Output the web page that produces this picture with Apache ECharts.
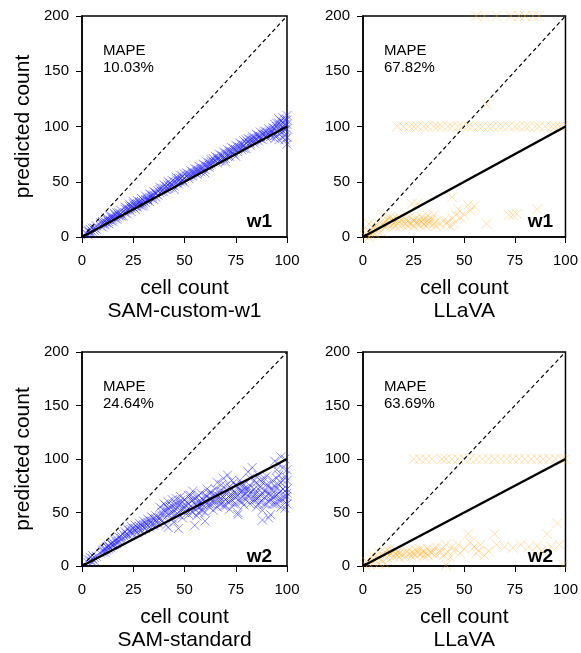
<!DOCTYPE html>
<html>
<head>
<meta charset="utf-8">
<script src="https://cdn.jsdelivr.net/npm/echarts@6/dist/echarts.min.js"></script>
<style>html,body{margin:0;padding:0;background:#fff}#c{width:581px;height:653px}</style>
</head>
<body>
<div id="c"></div>
<script>
// ---- data ----
const xTicks = [0, 25, 50, 75, 100];
const yTicks = [0, 50, 100, 150, 200];
const refX = [0, 100];
const identityY = [0, 100];
const doubleY = [0, 200];

const panelTitles = ['SAM-custom-w1', 'LLaVA', 'SAM-standard', 'LLaVA'];
const mapeValues = ['10.03%', '67.82%', '24.64%', '63.69%'];
const wellLabels = ['w1', 'w1', 'w2', 'w2'];

const samCustomW1 = [
[2,3],[3,2],[3,5],[4,4],[4,7],[5,5],[5,3],[6,6],[6,8],[7,7],
[9,10],[10,12],[10,9],[11,11],[11,14],[12,13],[12,16],[13,14],[13,12],[14,15],[14,18],[15,16],[15,14],[16,17],[16,20],[17,18],[17,16],[18,20],[18,22],[19,19],[19,21],
[21,22],[21,25],[22,24],[22,21],[23,25],[23,28],[24,26],[24,23],[25,27],[25,30],[26,28],[26,25],[27,30],[27,27],[28,31],[28,29],[29,32],[29,28],[30,33],[30,30],[31,34],[31,31],[32,35],[32,33],[33,36],[33,32],[34,37],[34,35],[35,38],[35,34],[36,39],[36,36],[37,38],
[38,40],[38,43],[39,41],[40,44],[40,41],[41,46],[42,44],[42,47],[43,45],[43,49],[44,47],[45,50],[45,46],[46,49],[46,52],[47,51],[47,48],[48,53],[48,50],[49,52],[49,55],[50,53],[50,49],
[51,55],[52,57],[52,53],[53,56],[54,59],[54,55],[55,58],[56,61],[56,57],[57,60],[58,63],[58,59],[59,62],[60,65],[60,61],[61,64],[62,67],[62,63],[63,66],[64,68],
[65,69],[66,72],[66,67],[67,71],[68,74],[68,69],[69,73],[70,76],[70,71],[71,75],[72,78],[72,73],[73,77],[74,80],[74,75],[75,79],[76,82],[76,77],[77,81],[78,84],[78,79],[79,83],[80,85],[80,80],
[81,86],[82,88],[82,83],[83,87],[84,90],[84,85],[85,89],[86,92],[86,87],[87,91],[88,93],[88,88],[89,92],[90,95],[90,90],[91,94],[92,96],[92,91],[93,95],
[94,98],[94,92],[95,100],[95,95],[96,103],[96,97],[97,101],[97,94],[98,104],[98,96],[99,102],[99,88],[100,106],[100,98],[100,84],[99,92],
[3,6],[5,8],[7,10],[9,13],[10,14],[12,17],[14,19],[16,21],[17,22],[19,24],[21,27],[23,30],[25,32],[27,33],[29,35],[31,37],[33,39],[35,41],[37,42],[38,45],[40,47],[42,50],[44,51],[46,54],[48,56],[50,57],[51,58],[53,60],[55,62],[57,64],[59,66],[61,68],[63,70],[64,71],[65,73],[67,75],[69,77],[71,79],[73,81],[75,83],[77,85],[79,87],[80,88],[81,89],[83,91],[85,93],[87,95],[89,96],[91,98],[93,99],[94,102],[96,107],[98,108],[100,110],[100,102],[99,97],[97,105],[95,92],[98,90],[100,90],[96,88],[94,89],[70,68],[75,73],[60,58],[45,43],[30,28],[20,19],
[11,12],[13,16],[15,18],[18,19],[22,26],[24,28],[26,30],[28,32],[32,34],[34,38],[36,40],[39,44],[41,43],[43,47],[47,53],[49,51],[52,55],[54,57],[56,59],[58,61],[62,65],[63,68],[66,70],[67,69],[69,71],[71,73],[72,76],[74,77],[76,79],[78,81],[79,80],[82,85],[83,89],[84,87],[86,90],[87,89],[89,94],[90,92],[92,94],[93,97],[95,103],[97,98],[99,106],[98,100]
];

const llavaW1 = [
[17,100],[20,100],[23,100],[25,100],[27,100],[30,100],[32,100],[35,100],[37,100],[39,100],[42,100],[44,100],[47,100],[49,100],[52,100],[54,100],[57,100],[59,100],[62,100],[64,100],[67,100],[69,100],[72,100],[75,100],[77,100],[80,100],[82,100],[85,100],[87,100],[90,100],[93,100],[95,100],[97,100],[99,100],
[56,200],[60,200],[66,200],[73,200],[77,200],[80,200],[84,200],[87,200],
[61,120],
[1,1],[2,3],[3,0],[3,5],[4,2],[5,8],[5,4],[6,3],[6,10],[7,6],[8,12],[8,9],[9,5],[10,12],[10,20],[11,14],[11,9],[12,15],[12,11],[13,13],[13,18],[14,10],[14,15],[15,12],[15,16],[16,14],[16,10],[17,16],[17,12],[18,14],[18,18],[19,11],[19,15],
[21,12],[21,16],[22,10],[22,14],[23,13],[23,18],[24,12],[24,30],[25,15],[25,10],[26,13],[26,17],[27,12],[27,30],[28,15],[28,11],[29,14],[29,18],[30,12],[30,16],[31,13],[31,10],[32,15],[32,19],[33,12],[33,14],[34,16],[35,12],[35,20],[36,14],[36,10],
[38,12],[40,15],[41,12],[42,14],[43,10],[44,17],[44,36],[45,12],[46,20],[47,25],[48,18],[50,20],[52,29],[53,24],[55,28],[61,12],[72,20],[74,20],[76,21],[86,25],[3,12]
];

const samStandard = [
[3,3],[4,5],[4,8],[5,7],[5,10],[6,8],[6,5],[7,9],[3,6],[5,4],
[9,12],[10,15],[10,13],[11,16],[11,13],[12,18],[12,15],[13,19],[13,16],[14,21],[14,17],[15,22],[15,19],[16,24],[16,20],[17,25],[17,21],[18,27],[18,23],[19,28],[19,24],[20,30],
[21,27],[21,32],[22,30],[22,35],[23,28],[23,33],[24,31],[24,37],[25,30],[25,35],[26,33],[26,38],[27,31],[27,36],[28,34],[28,40],[29,33],[29,38],[30,36],[30,42],[31,35],[31,40],[32,38],[32,44],[33,36],[33,42],[34,39],[34,46],[35,38],[35,44],[36,41],[36,47],[37,40],[37,45],
[38,45],[38,55],[39,50],[39,42],[40,58],[40,47],[41,52],[41,38],[42,60],[42,48],[43,55],[43,44],[44,62],[44,50],[45,57],[45,41],[46,53],[46,63],[47,48],[47,58],[48,65],[48,52],[49,45],[49,60],[50,55],[50,50],[42,36],[47,35],
[51,52],[51,60],[52,48],[52,66],[53,56],[53,62],[54,50],[54,70],[55,58],[55,53],[56,64],[56,47],[57,60],[57,55],[58,68],[58,52],[59,62],[59,57],[60,66],[60,50],[61,59],[61,72],[62,55],[62,63],[63,69],[63,58],[64,61],[64,52],[55,38],[60,42],
[65,60],[65,72],[66,55],[66,78],[67,65],[67,58],[68,70],[68,62],[69,82],[69,56],[70,68],[70,75],[71,60],[71,85],[72,66],[72,53],[73,72],[73,62],[74,78],[74,58],[75,68],[75,64],[76,74],[76,50],[77,80],[77,60],[78,70],[78,65],[79,76],[79,57],[80,72],[80,62],[76,48],
[81,65],[81,88],[82,58],[82,75],[83,70],[83,92],[84,62],[84,80],[85,55],[85,68],[86,72],[86,85],[87,60],[87,66],[88,78],[88,52],[89,70],[89,64],[90,84],[90,58],[91,67],[91,75],[92,62],[92,48],[93,72],[93,80],[88,43],[91,45],
[94,65],[94,98],[95,72],[95,58],[96,85],[96,68],[97,78],[97,55],[98,92],[98,62],[99,70],[99,100],[100,80],[100,65],[100,58],[95,90],[97,102],[99,54],
[40,52],[41,56],[43,50],[44,56],[45,52],[46,58],[48,58],[49,54],[52,58],[53,52],[54,62],[56,56],[57,66],[58,60],[59,52],[61,65],[62,58],[63,62],[66,66],[67,70],[68,58],[69,64],[70,62],[71,70],[72,74],[73,66],[74,68],[75,75],[77,70],[78,76],[79,66],[80,68],[82,68],[83,62],[84,72],[85,78],[86,64],[87,74],[88,68],[89,82],[90,70],[91,60],[92,72],[93,65],[94,75],[95,82],[96,62],[97,70],[98,80],[99,64],[100,72],[100,90],[96,76],[94,58],[22,28],[24,34],[26,35],[28,37],[30,39],[32,41],[34,42],[36,44],[13,18],[15,20],[17,23],[19,26],[11,15],
[39,47],[42,54],[44,45],[46,48],[48,61],[50,62],[51,56],[53,66],[55,63],[57,50],[58,56],[60,60],[62,68],[64,66],[65,66],[67,62],[68,76],[70,56],[72,60],[73,80],[75,58],[76,66],[78,60],[79,72],[81,72],[82,82],[84,66],[85,62],[86,58],[87,80],[89,58],[90,76],[92,66],[93,58],[95,66],[96,95],[97,62],[98,72],[99,84],[100,68]
];

const llavaW2 = [
[25,100],[28,100],[31,100],[34,100],[39,100],[41,100],[44,100],[47,100],[50,100],[53,100],[56,100],[59,100],[62,100],[65,100],[68,100],[71,100],[74,100],[77,100],[80,100],[83,100],[86,100],[89,100],[92,100],[95,100],[98,100],[100,100],
[1,1],[2,4],[3,2],[4,7],[5,3],[5,10],[6,5],[7,8],[8,2],[8,12],[9,6],[10,10],[11,13],[12,8],[12,15],[13,10],[14,12],[15,9],[15,14],[16,11],[16,15],[17,10],[17,13],[18,12],[18,8],[19,11],
[21,12],[21,9],[22,14],[23,11],[24,13],[24,9],[25,12],[26,15],[26,10],[27,13],[28,11],[28,16],[29,12],[30,14],[30,9],[31,12],[32,16],[32,10],[33,13],[34,12],[35,15],[36,11],[36,18],
[38,12],[39,16],[40,10],[41,20],[42,13],[43,8],[44,18],[45,14],[47,20],[48,12],[50,16],[52,30],[53,22],[55,18],[56,12],[57,14],[58,20],[60,10],[62,14],[65,30],[66,20],[70,18],[74,17],[78,20],[82,18],[86,19],[88,14],[91,30],[93,18],[96,40],[97,20],[99,1],[41,1],[11,2]
];

const panelData = [samCustomW1, llavaW1, samStandard, llavaW2];
const panelColors = ['rgba(25,25,255,0.6)', 'rgba(255,170,30,0.45)', 'rgba(25,25,255,0.6)', 'rgba(255,170,30,0.45)'];
const panelSymbolSize = [9, 10, 9, 10];

// ---- layout ----
const FONT = 'Liberation Sans, Arial, sans-serif';
const gridPos = [
  {left: 82, top: 16, width: 205, height: 221},
  {left: 363, top: 16, width: 205, height: 221},
  {left: 82, top: 352, width: 205, height: 220},
  {left: 363, top: 352, width: 205, height: 220}
];
const crossPath = 'path://M0,0L10,10M10,0L0,10';

const grid = [], xAxis = [], yAxis = [], series = [], graphic = [];
gridPos.forEach((g, i) => {
  grid.push(Object.assign({show: true, borderColor: '#000', borderWidth: 1.5, backgroundColor: '#fff'}, g));
  xAxis.push({
    gridIndex: i, type: 'value', min: xTicks[0], max: xTicks[xTicks.length - 1], interval: xTicks[1] - xTicks[0],
    axisLine: {show: true, onZero: false, lineStyle: {color: '#000', width: 1.5}},
    axisTick: {show: true, length: 6, lineStyle: {color: '#000', width: 1}},
    axisLabel: {color: '#000', fontSize: 15, fontFamily: FONT, margin: 16},
    splitLine: {show: false},
    name: 'cell count\n' + panelTitles[i], nameLocation: 'middle', nameGap: 40,
    nameTextStyle: {color: '#000', fontSize: 21, fontFamily: FONT, lineHeight: 23}
  });
  yAxis.push({
    gridIndex: i, type: 'value', min: yTicks[0], max: yTicks[yTicks.length - 1], interval: yTicks[1] - yTicks[0],
    axisLine: {show: true, onZero: false, lineStyle: {color: '#000', width: 1.5}},
    axisTick: {show: true, length: 6, lineStyle: {color: '#000', width: 1}},
    axisLabel: {color: '#000', fontSize: 15, fontFamily: FONT, margin: 13},
    splitLine: {show: false},
    name: (i % 2 === 0) ? 'predicted count' : '', nameLocation: 'middle', nameGap: 48,
    nameTextStyle: {color: '#000', fontSize: 21, fontFamily: FONT}
  });
  series.push({
    type: 'scatter', xAxisIndex: i, yAxisIndex: i,
    data: panelData[i], symbol: crossPath, symbolSize: panelSymbolSize[i],
    itemStyle: {color: 'transparent', borderColor: panelColors[i], borderWidth: 1},
    z: 2, silent: true, animation: false
  });
  series.push({
    type: 'line', xAxisIndex: i, yAxisIndex: i,
    data: refX.map((x, k) => [x, doubleY[k]]), symbol: 'none',
    lineStyle: {color: '#000', width: 1.2, type: [4, 3]}, z: 3, animation: false, silent: true
  });
  series.push({
    type: 'line', xAxisIndex: i, yAxisIndex: i,
    data: refX.map((x, k) => [x, identityY[k]]), symbol: 'none',
    lineStyle: {color: '#000', width: 2.5}, z: 4, animation: false, silent: true
  });
  graphic.push({
    type: 'text', left: g.left + 21, top: g.top + 26, z: 10,
    style: {text: 'MAPE\n' + mapeValues[i], font: '15px ' + FONT, fill: '#000', lineHeight: 17}
  });
  graphic.push({
    type: 'text', right: 581 - (g.left + g.width) + 15, top: g.top + g.height - 25, z: 10,
    style: {text: wellLabels[i], font: 'bold 19px ' + FONT, fill: '#000'}
  });
});

const chart = echarts.init(document.getElementById('c'), null, {renderer: 'canvas'});
chart.setOption({animation: false, grid, xAxis, yAxis, series, graphic});
</script>
</body>
</html>
